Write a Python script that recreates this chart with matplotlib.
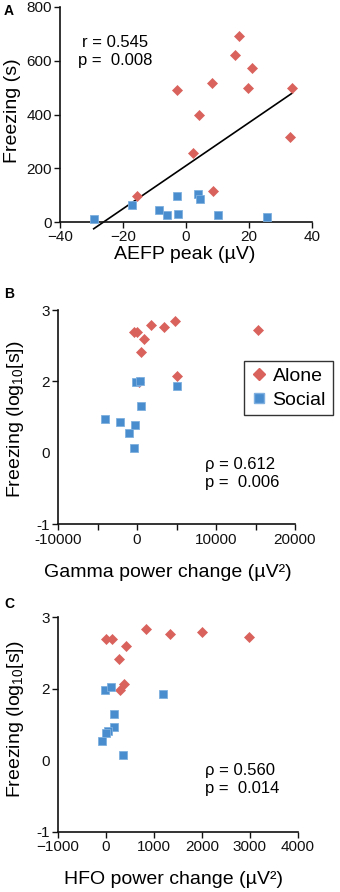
import numpy as np
import matplotlib
matplotlib.use("Agg")
import matplotlib.pyplot as plt
from matplotlib.lines import Line2D

plt.rcParams['font.family'] = ['Liberation Sans', 'DejaVu Sans']
plt.rcParams['mathtext.fontset'] = 'custom'
plt.rcParams['mathtext.rm'] = 'Liberation Sans'
plt.rcParams['mathtext.it'] = 'Liberation Sans:italic'

RED = '#D9625C'
BLUE = '#4A8DCF'

# Panel A: AEFP peak (uV) vs freezing (s)
a_alone_x = [-15.4, -3.0, 4.2, 2.3, 8.4, 8.6, 15.5, 16.7, 20.8, 19.7, 33.7, 33.0]
a_alone_y = [98, 491, 398, 258, 519, 117, 620, 693, 574, 498, 499, 317]
a_social_x = [-29.3, -17.3, -8.5, -5.9, -2.8, -2.4, 3.9, 4.4, 10.0, 25.7]
a_social_y = [12, 62, 46, 25, 96, 31, 103, 85, 27, 19]

# Panel B: gamma power change vs log10 freezing
b_alone_x = [-367, 14, 4873, 1830, 3393, 858, 563, 5126, 225, 15265]
b_alone_y = [2.69, 2.69, 2.84, 2.79, 2.76, 2.60, 2.41, 2.07, 1.99, 2.72]
b_social_x = [-71, 351, 5084, 563, -4085, -2099, -198, -1001, -409]
b_social_y = [1.99, 2.01, 1.93, 1.65, 1.47, 1.43, 1.39, 1.28, 1.07]

# Panel C: HFO power change vs log10 freezing
c_alone_x = [10, 128, 414, 267, 845, 1333, 2008, 2977, 372, 302]
c_alone_y = [2.70, 2.69, 2.60, 2.41, 2.84, 2.76, 2.79, 2.72, 2.07, 1.98]
c_social_x = [-25, 100, 1194, 163, 163, 52, -4, -74, 365]
c_social_y = [1.98, 2.02, 1.92, 1.65, 1.46, 1.41, 1.38, 1.27, 1.07]

log_ticks = [0, 1, 2, 3]
log_tick_labels = ['-1', '0', '2', '3']

fig = plt.figure(figsize=(3.4, 8.92), dpi=100)

def style(ax):
    for s in ['top', 'right']:
        ax.spines[s].set_visible(False)
    for s in ['left', 'bottom']:
        ax.spines[s].set_linewidth(1.2)
        ax.spines[s].set_color('#111111')
    ax.tick_params(direction='out', length=4, width=1.0, labelsize=11, colors='#111111', pad=2)

def scatter(ax, ax_, ay, sx, sy):
    ax.plot(ax_, ay, linestyle='none', marker='D', ms=5.2, color=RED, mec=RED, mew=0.5, clip_on=False, zorder=3)
    ax.plot(sx, sy, linestyle='none', marker='s', ms=6.3, color=BLUE, mec='#7FB0E0', mew=0.6, clip_on=False, zorder=3)

# ---- A ----
axA = fig.add_axes([60/340, 1-222/892, 252/340, 215/892])
style(axA)
scatter(axA, a_alone_x, a_alone_y, a_social_x, a_social_y)
allx = np.array(a_alone_x + a_social_x, float)
ally = np.array(a_alone_y + a_social_y, float)
k, b0 = np.polyfit(allx, ally, 1)
xs = np.array([allx.min(), allx.max()])
axA.plot(xs, k*xs + b0, color='black', lw=1.2, clip_on=False, zorder=2)
axA.set_xlim(-40, 40)
axA.set_ylim(0, 800)
axA.set_xticks([-40, -20, 0, 20, 40])
axA.set_yticks([0, 200, 400, 600, 800])
axA.set_xlabel('AEFP peak (µV)', fontsize=14)
axA.set_ylabel('Freezing (s)', fontsize=14)
axA.xaxis.set_label_coords(0.496, -0.153)
axA.xaxis.label.set_va('center')
axA.yaxis.set_label_coords(-0.187, 0.516)
axA.yaxis.label.set_va('center')
axA.text(0.218, 0.791, 'r = 0.545\np =  0.008', transform=axA.transAxes,
         ha='center', va='center', fontsize=12, linespacing=1.25, multialignment='center')

# ---- B ----
axB = fig.add_axes([58/340, 1-524.3/892, 237/340, 214.3/892])
style(axB)
scatter(axB, b_alone_x, b_alone_y, b_social_x, b_social_y)
axB.set_xlim(-10000, 20000)
axB.set_ylim(0, 3)
axB.set_xticks([-10000, -5000, 0, 5000, 10000, 15000, 20000])
axB.set_xticklabels(['-10000', '', '0', '', '10000', '', '20000'])
axB.set_yticks([0, 2, 3] + [1])
axB.set_yticks(log_ticks)
axB.set_yticklabels(log_tick_labels)
axB.set_xlabel('Gamma power change (µV²)', fontsize=14)
axB.set_ylabel(r'Freezing (log$_{\mathrm{10}}$[s])', fontsize=14)
axB.xaxis.set_label_coords(0.464, -0.227)
axB.xaxis.label.set_va('center')
axB.yaxis.set_label_coords(-0.181, 0.491)
axB.yaxis.label.set_va('center')
axB.text(0.620, 0.239, 'ρ = 0.612\np =  0.006', transform=axB.transAxes,
         ha='left', va='center', fontsize=12, linespacing=1.25)

handles = [Line2D([], [], linestyle='none', marker='D', ms=6, color=RED, mec=RED),
           Line2D([], [], linestyle='none', marker='s', ms=6.5, color=BLUE, mec='#7FB0E0')]
leg = fig.legend(handles, ['Alone', 'Social'], loc='center',
                 bbox_to_anchor=(288.5/340, 1-388/892), fontsize=14,
                 frameon=True, fancybox=False, edgecolor='black',
                 handlelength=0.8, handletextpad=0.3, borderpad=0.35,
                 labelspacing=0.3, borderaxespad=0)
leg.get_frame().set_linewidth(1.0)

# ---- C ----
axC = fig.add_axes([58/340, 1-831.7/892, 239.7/340, 214.4/892])
style(axC)
scatter(axC, c_alone_x, c_alone_y, c_social_x, c_social_y)
axC.set_xlim(-1000, 4000)
axC.set_ylim(0, 3)
axC.set_xticks([-1000, 0, 1000, 2000, 3000, 4000])
axC.set_yticks(log_ticks)
axC.set_yticklabels(log_tick_labels)
axC.set_xlabel('HFO power change (µV²)', fontsize=14)
axC.set_ylabel(r'Freezing (log$_{\mathrm{10}}$[s])', fontsize=14)
axC.xaxis.set_label_coords(0.48, -0.225)
axC.xaxis.label.set_va('center')
axC.yaxis.set_label_coords(-0.179, 0.526)
axC.yaxis.label.set_va('center')
axC.text(0.613, 0.243, 'ρ = 0.560\np =  0.014', transform=axC.transAxes,
         ha='left', va='center', fontsize=12, linespacing=1.25)

# remove y tick at 1 in log panels (reference has none)
for ax in (axB, axC):
    ticks = ax.yaxis.get_major_ticks()
    ticks[1].tick1line.set_visible(False)

# panel letters
fig.text(4/340, 1-15/892, 'A', fontsize=10, fontweight='bold', va='baseline')
fig.text(4/340, 1-298/892, 'B', fontsize=10, fontweight='bold', va='baseline')
fig.text(4/340, 1-608/892, 'C', fontsize=10, fontweight='bold', va='baseline')

fig.savefig('out.png', dpi=100)
